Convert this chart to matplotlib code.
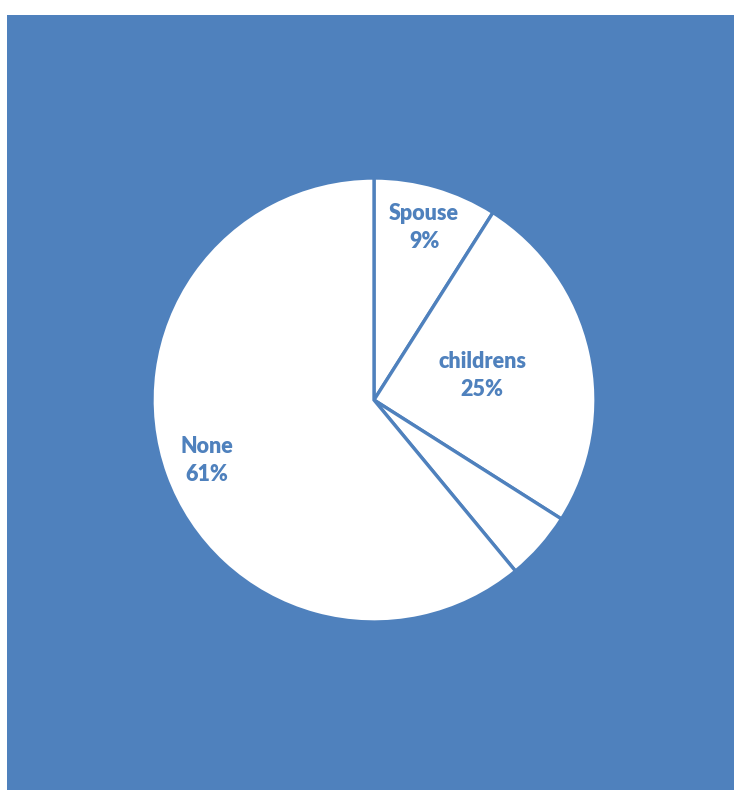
import numpy as np
import matplotlib
matplotlib.use("Agg")
import matplotlib.pyplot as plt
from matplotlib.patches import Rectangle

BLUE = "#4F81BD"

labels = ["Spouse", "childrens", "", "None"]
shares = [9, 25, 5, 61]
label_r = [0.81, 0.50, None, 0.80]

W, H = 734, 790
fig = plt.figure(figsize=(W / 100, H / 100), dpi=100, facecolor="white")
fig.patches.append(Rectangle((7 / W, 0), 1 - 7 / W, (H - 15) / H,
                             transform=fig.transFigure, facecolor=BLUE,
                             edgecolor="none", zorder=-5))

cx, cy, r = 374, 400, 222
ax = fig.add_axes([(cx - r) / W, (H - cy - r) / H, 2 * r / W, 2 * r / H])
ax.set_axis_off()
wedges, _ = ax.pie(shares, startangle=90, counterclock=False, colors=["white"] * 4,
                   wedgeprops=dict(edgecolor=BLUE, linewidth=2.4))
ax.set_xlim(-1, 1); ax.set_ylim(-1, 1)

for w, lbl, s, rr in zip(wedges, labels, shares, label_r):
    if not lbl:
        continue
    mid = np.deg2rad((w.theta1 + w.theta2) / 2)
    ax.text(rr * np.cos(mid), rr * np.sin(mid), f"{lbl}\n{s}%", ha="center", va="center",
            color=BLUE, fontsize=15.5, fontweight="heavy", family=["Lato", "DejaVu Sans"],
            linespacing=1.4)

fig.savefig("out.png", dpi=100, facecolor="white")
